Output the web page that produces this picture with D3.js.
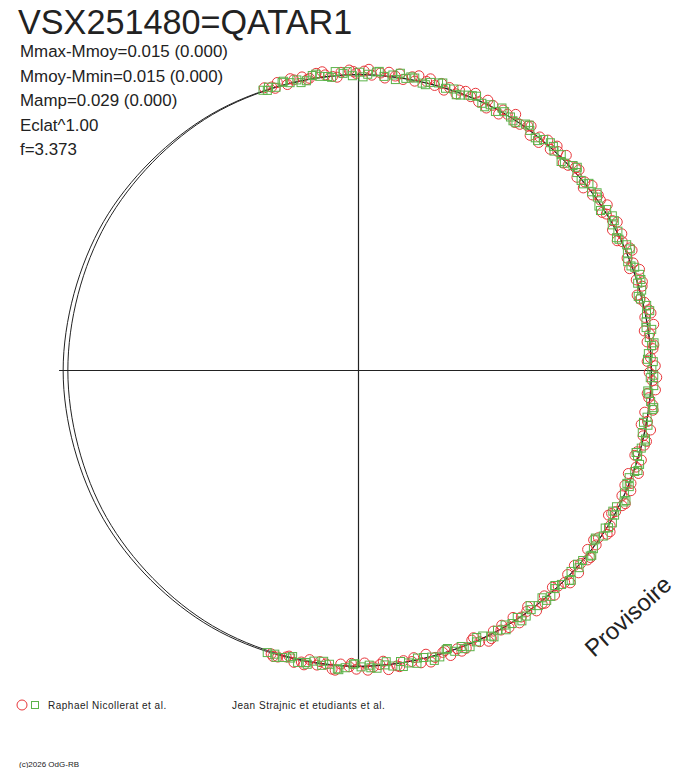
<!DOCTYPE html>
<html>
<head>
<meta charset="utf-8">
<script src="https://cdn.jsdelivr.net/npm/d3@7"></script>
<style>
  body { margin: 0; background: #fff; }
  svg { display: block; }
  text { font-family: "Liberation Sans", Arial, sans-serif; fill: #222; }
</style>
</head>
<body>
<div class="svgcont"></div>
<script>
// polar phase diagram
const title = "VSX251480=QATAR1";
const infoLines = ["Mmax-Mmoy=0.015 (0.000)", "Mmoy-Mmin=0.015 (0.000)", "Mamp=0.029 (0.000)", "Eclat^1.00", "f=3.373"];
const observers = ["Raphael Nicollerat et al.", "Jean Strajnic et etudiants et al."];

// model curves: angle (deg, clockwise from top) and relative radius
const curveAngles = [0, 30, 60, 90, 120, 150, 180, 210, 240, 270, 300, 330];
const curveOuter = [1.000, 1.001, 0.999, 1.000, 1.001, 1.000, 1.000, 1.002, 1.005, 1.008, 1.005, 1.001];
const curveInner = [0.999, 1.000, 0.998, 0.999, 1.000, 0.999, 0.999, 0.996, 0.993, 0.992, 0.994, 0.998];

// observations: [angle deg, radius deviation]
const redPoints = [[-18.6,6],[-17.2,2],[-15.9,9],[-14.1,-3],[-12.7,5],[-11.0,8],[-9.6,1],[-8.2,11],[-6.5,4],[-5.1,-2],[-3.4,7],[-1.8,12],[-0.5,3],[1.1,9],[2.6,-1],[4.3,6],[5.9,10],[7.2,2],[8.8,-4],[10.5,7],[11.7,13],[13.4,3],[15.1,-2],[16.3,8],[18.0,4],[19.6,-6],[21.2,9],[22.5,1],[24.3,-3],[25.8,11],[27.1,5],[28.9,-8],[30.4,3],[31.8,14],[33.5,-2],[35.0,6],[36.4,-10],[38.1,2],[39.7,9],[41.2,-5],[42.6,4],[44.3,12],[45.9,-3],[47.2,7],[48.8,-7],[50.5,1],[51.9,10],[53.4,-4],[55.1,5],[56.6,13],[58.0,-2],[59.7,3],[61.3,-9],[62.8,8],[64.2,0],[65.9,11],[67.5,-6],[68.8,4],[70.4,14],[72.1,-3],[73.6,7],[75.0,-12],[76.7,2],[78.3,9],[79.6,-5],[81.2,15],[82.9,1],[84.4,-8],[85.8,6],[87.5,-2],[89.1,10],[90.4,-6],[92.0,3],[93.7,12],[95.3,-4],[96.6,8],[98.2,-10],[99.9,1],[101.4,13],[102.8,-3],[104.5,6],[106.1,-8],[107.4,9],[109.0,2],[110.7,-12],[112.3,4],[113.6,11],[115.2,-5],[116.9,7],[118.5,-1],[119.8,-13],[121.4,5],[123.1,10],[124.6,-4],[126.0,2],[127.7,-9],[129.3,8],[130.7,0],[132.3,12],[134.0,-6],[135.5,3],[136.9,-2],[138.6,9],[140.2,-7],[141.5,5],[143.2,11],[144.8,-3],[146.3,1],[147.7,-10],[149.4,7],[151.0,2],[152.4,-5],[154.1,13],[155.7,4],[157.0,-8],[158.6,6],[160.3,-1],[161.9,10],[163.2,-4],[164.9,3],[166.5,-11],[167.8,8],[169.5,0],[171.1,-6],[172.5,5],[174.2,12],[175.8,-3],[177.1,2],[178.8,-9],[180.4,7],[181.8,1],[183.5,-5],[185.1,10],[186.4,-2],[188.1,4],[189.7,-7],[191.2,3],[192.6,8],[194.3,-1],[195.9,5],[197.3,2],
  [-16.6,-4],[-13.3,10],[-10.1,-1],[-7.0,13],[-4.2,-5],[-1.0,8],[2.0,14],[5.2,-6],[8.0,9],[11.1,-3],[14.0,12],[17.1,-7],[20.0,6],[23.1,14],[26.2,-9],[29.3,7],[32.5,-5],[35.5,11],[38.6,-11],[41.8,13],[44.9,-8],[48.0,10],[51.2,-12],[54.1,8],[57.3,-9],[60.4,12],[63.6,-11],[66.5,14],[69.6,-10],[72.8,11],[75.9,-7],[79.0,13],[82.2,-12],[85.1,9],[88.2,-11],[91.3,14],[94.5,-9],[97.6,11],[100.7,-14],[103.7,9],[106.9,-11],[110.0,13],[113.1,-9],[116.3,12],[119.2,-8],[122.4,13],[125.5,-11],[128.6,10],[131.8,-9],[134.8,14],[137.9,-10],[141.0,9],[144.1,-12],[147.2,11],[150.4,-8],[153.4,10],[156.5,-12],[159.6,9],[162.7,-7],[165.9,12],[169.0,-9],[172.0,8],[175.1,-11],[178.2,10],[181.4,-8],[184.5,12],[187.6,-6],[190.6,9],[193.8,-5],[196.8,7]];
const greenPoints = [[-19.0,1],[-17.8,4],[-16.4,-2],[-15.0,6],[-13.5,0],[-12.1,3],[-10.3,-4],[-9.0,7],[-7.6,2],[-6.0,-1],[-4.5,10],[-3.0,4],[-1.2,-3],[0.2,6],[1.8,1],[3.5,8],[5.0,-2],[6.7,4],[8.1,11],[9.3,0],[11.0,5],[12.6,-4],[14.2,3],[15.7,7],[17.3,-1],[18.9,4],[20.5,-5],[21.9,2],[23.5,8],[25.0,-3],[26.6,3],[28.1,-6],[29.7,5],[31.2,1],[32.7,-4],[34.4,7],[35.8,0],[37.5,-7],[39.0,3],[40.4,8],[42.0,-2],[43.5,4],[45.1,-6],[46.6,6],[48.1,1],[49.8,-4],[51.2,7],[52.8,-1],[54.3,3],[55.9,-7],[57.3,5],[58.9,9],[60.4,-3],[62.0,2],[63.5,-5],[65.1,7],[66.6,0],[68.2,-8],[69.7,4],[71.3,10],[72.8,-2],[74.3,3],[75.9,-6],[77.4,6],[79.0,1],[80.5,-4],[82.1,8],[83.6,-1],[85.2,3],[86.7,-7],[88.3,5],[89.8,1],[91.4,-3],[92.9,7],[94.4,-5],[96.0,2],[97.5,9],[99.1,-2],[100.6,4],[102.2,-7],[103.7,6],[105.2,0],[106.8,-4],[108.3,8],[109.9,2],[111.4,-6],[113.0,3],[114.5,-2],[116.1,7],[117.6,-5],[119.2,1],[120.7,6],[122.3,-3],[123.8,4],[125.3,-8],[126.9,2],[128.4,7],[130.0,-1],[131.5,4],[133.1,-5],[134.6,8],[136.2,1],[137.7,-3],[139.3,5],[140.8,-7],[142.3,3],[143.9,0],[145.4,6],[147.0,-4],[148.5,2],[150.1,8],[151.6,-2],[153.2,4],[154.7,-6],[156.3,1],[157.8,6],[159.4,-3],[160.9,3],[162.4,-8],[164.0,5],[165.5,0],[167.1,-4],[168.6,7],[170.2,2],[171.7,-5],[173.3,4],[174.8,-1],[176.4,6],[177.9,-3],[179.5,1],[181.0,-6],[182.6,4],[184.1,8],[185.7,-2],[187.2,3],[188.8,-5],[190.3,2],[191.9,6],[193.4,-1],[195.0,3],[196.6,0],[198.1,2],
  [-18.2,-3],[-14.7,8],[-11.4,-6],[-8.3,9],[-5.3,-4],[-2.2,8],[0.9,-6],[4.0,10],[7.3,-7],[10.2,6],[13.3,-6],[16.5,10],[19.7,-8],[22.7,5],[25.8,-8],[28.9,10],[32.0,-4],[35.1,10],[38.2,-9],[41.3,6],[44.4,-9],[47.4,11],[50.6,-5],[53.6,9],[56.8,-10],[59.9,7],[63.0,-9],[66.1,11],[69.2,-4],[72.3,9],[75.3,-10],[78.5,11],[81.6,-6],[84.7,10],[87.8,-10],[90.9,6],[94.0,-8],[97.1,12],[100.2,-9],[103.3,5],[106.3,-10],[109.5,9],[112.6,-6],[115.7,10],[118.7,-8],[121.9,4],[125.0,-10],[128.1,9],[131.2,-5],[134.3,11],[137.3,-9],[140.4,6],[143.6,-10],[146.6,10],[149.8,-4],[152.8,9],[155.9,-9],[159.0,5],[162.1,-10],[165.2,10],[168.3,-6],[171.3,9],[174.5,-9],[177.6,4],[180.7,-7],[183.8,10],[186.9,-8],[190.0,6],[193.1,-6],[196.2,7]];

const w = 688;
const h = 768;
const cx = 358.5;
const cy = 370.5;

const xScale = d3.scaleLinear().domain([-1, 1]).range([cx - 293, cx + 293]);
const yScale = d3.scaleLinear().domain([-1, 1]).range([cy + 296, cy - 296]);
// radius deviation -> relative radius
const devScale = d3.scaleLinear().domain([0, 10]).range([1, 1.013]);
const rad = d => d * Math.PI / 180;
const px = (a, r) => xScale(r * Math.sin(rad(a)));
const py = (a, r) => yScale(r * Math.cos(rad(a)));

let svg = d3.select(".svgcont").append("svg")
  .attr("width", w).attr("height", h);

// axes
svg.append("line")
  .attr("x1", xScale(-1.022)).attr("x2", xScale(1.022))
  .attr("y1", yScale(0)).attr("y2", yScale(0))
  .attr("stroke", "#222").attr("stroke-width", 1.2);
svg.append("line")
  .attr("x1", xScale(0)).attr("x2", xScale(0))
  .attr("y1", yScale(1.005)).attr("y2", yScale(-1.005))
  .attr("stroke", "#222").attr("stroke-width", 1.2);

// model curves
const curveLine = d3.line()
  .x(d => px(d[0], d[1]))
  .y(d => py(d[0], d[1]))
  .curve(d3.curveCardinalClosed);

[curveOuter, curveInner].forEach(radii => {
  svg.append("path")
    .attr("d", curveLine(curveAngles.map((a, i) => [a, radii[i]])))
    .attr("fill", "none")
    .attr("stroke", "#222")
    .attr("stroke-width", 1);
});

// observations
svg.append("g").selectAll("circle")
  .data(redPoints).enter().append("circle")
  .attr("cx", d => px(d[0], devScale(d[1])))
  .attr("cy", d => py(d[0], devScale(d[1])))
  .attr("r", 5)
  .attr("fill", "none")
  .attr("stroke", "#e8363a")
  .attr("stroke-width", 1);

svg.append("g").selectAll("rect")
  .data(greenPoints).enter().append("rect")
  .attr("x", d => px(d[0], devScale(d[1])) - 4)
  .attr("y", d => py(d[0], devScale(d[1])) - 4)
  .attr("width", 8).attr("height", 8)
  .attr("fill", "none")
  .attr("stroke", "#5cb34a")
  .attr("stroke-width", 1);

// texts
svg.append("text")
  .attr("x", 18).attr("y", 34)
  .style("font-size", "34.2px")
  .text(title);

svg.selectAll(".info")
  .data(infoLines).enter().append("text")
  .attr("class", "info")
  .attr("x", 20)
  .attr("y", (d, i) => 57 + i * 24.5)
  .style("font-size", "16.9px")
  .text(d => d);

svg.append("text")
  .attr("transform", "translate(594,658) rotate(-42)")
  .style("font-size", "24px")
  .text("Provisoire");

// legend
svg.append("circle")
  .attr("cx", 22).attr("cy", 705).attr("r", 5)
  .attr("fill", "none").attr("stroke", "#e8363a");
svg.append("rect")
  .attr("x", 31.5).attr("y", 701.5).attr("width", 7).attr("height", 7)
  .attr("fill", "none").attr("stroke", "#5cb34a");

svg.append("text")
  .attr("x", 48).attr("y", 709)
  .style("font-size", "10px").style("letter-spacing", "0.5px")
  .text(observers[0]);
svg.append("text")
  .attr("x", 232).attr("y", 709)
  .style("font-size", "10px").style("letter-spacing", "0.5px")
  .text(observers[1]);

svg.append("text")
  .attr("x", 19).attr("y", 767)
  .style("font-size", "8px")
  .text("(c)2026 OdG-RB");
</script>
</body>
</html>
